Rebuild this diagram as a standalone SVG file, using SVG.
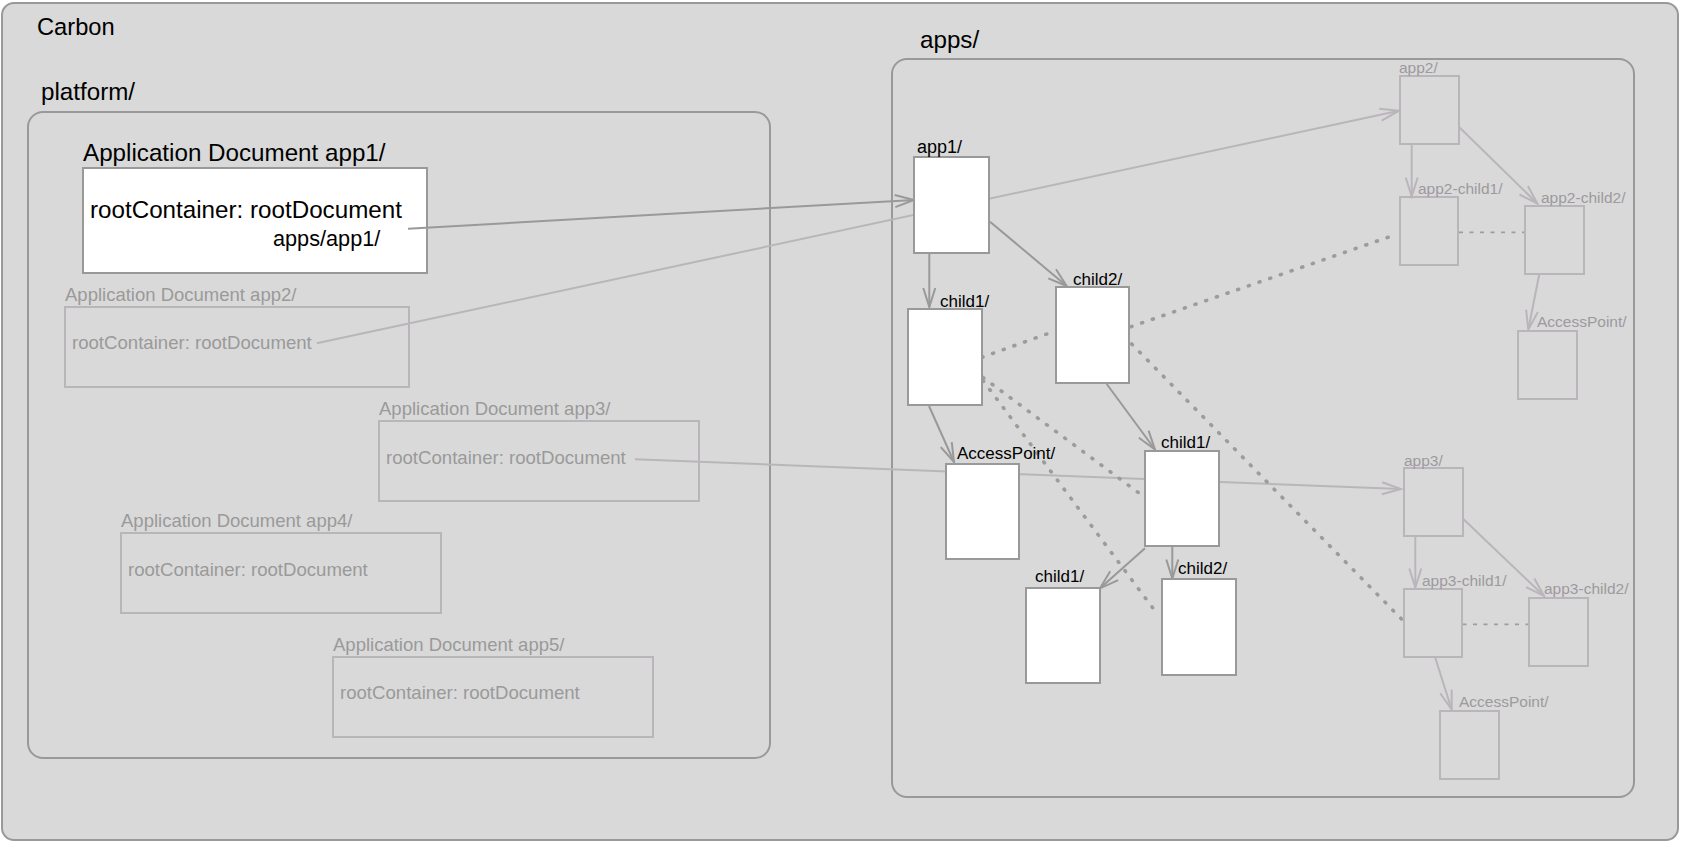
<svg xmlns="http://www.w3.org/2000/svg" width="1682" height="842" viewBox="0 0 1682 842">
<style>
text{font-family:"Liberation Sans",Arial,sans-serif;}
.big{font-size:24.2px;fill:#000;}
.lbl{font-size:17px;fill:#000;}
.flbl{font-size:15.5px;fill:#9d999e;}
.ftitle{font-size:18.5px;fill:#9a9a9a;}
.ftext{font-size:18.6px;fill:#9a9a9a;}
.cont{fill:#d9d9d9;stroke:#999;stroke-width:2;}
.node{fill:#fff;stroke:#999;stroke-width:2;}
.fnode{fill:none;stroke:#bab5bb;stroke-width:2;}
.fdoc{fill:none;stroke:#bab5bb;stroke-width:2;}
.edge{fill:none;stroke:#999;stroke-width:2;}
.fedge{fill:none;stroke:#bab5bb;stroke-width:2;}
.dot{fill:none;stroke:#9c9c9c;stroke-width:3.6;stroke-linecap:round;stroke-dasharray:1 10.3;}
.dash{fill:none;stroke:#a09ca2;stroke-width:1.8;stroke-dasharray:4 6.5;}
</style>
<defs>
<marker id="ah" markerUnits="userSpaceOnUse" viewBox="0 0 22 16" markerWidth="22" markerHeight="16" refX="20" refY="8" orient="auto"><path d="M1,2 L20,8 L1,14" fill="none" stroke="#999" stroke-width="2"/></marker>
<marker id="fah" markerUnits="userSpaceOnUse" viewBox="0 0 22 16" markerWidth="22" markerHeight="16" refX="20" refY="8" orient="auto"><path d="M1,2 L20,8 L1,14" fill="none" stroke="#bab5bb" stroke-width="2"/></marker>
</defs>

<g id="carbon">
<rect class="cont" x="2" y="3" width="1676" height="837" rx="12"/>
<text class="big" x="37" y="35" style="font-size:23.7px">Carbon</text>
</g>

<g id="platform">
<rect class="cont" x="28" y="112" width="742" height="646" rx="15"/>
<text class="big" x="41" y="100">platform/</text>
</g>

<g id="apps">
<rect class="cont" x="892" y="59" width="742" height="738" rx="15"/>
<text class="big" x="920" y="48">apps/</text>
</g>

<g id="doc-app1">
<text class="big" x="83" y="161">Application Document app1/</text>
<rect class="node" x="83" y="168" width="344" height="105"/>
<text class="big" x="90" y="218">rootContainer: rootDocument</text>
<text class="big" x="273" y="246" style="font-size:21.7px">apps/app1/</text>
</g>

<g id="doc-app2">
<text class="ftitle" x="65" y="300.5">Application Document app2/</text>
<rect class="fdoc" x="65" y="307" width="344" height="80"/>
<text class="ftext" x="72" y="349">rootContainer: rootDocument</text>
</g>

<g id="doc-app3">
<text class="ftitle" x="379" y="415">Application Document app3/</text>
<rect class="fdoc" x="379" y="421" width="320" height="80"/>
<text class="ftext" x="386" y="464">rootContainer: rootDocument</text>
</g>

<g id="doc-app4">
<text class="ftitle" x="121" y="526.5">Application Document app4/</text>
<rect class="fdoc" x="121" y="533" width="320" height="80"/>
<text class="ftext" x="128" y="576">rootContainer: rootDocument</text>
</g>

<g id="doc-app5">
<text class="ftitle" x="333" y="650.5">Application Document app5/</text>
<rect class="fdoc" x="333" y="657" width="320" height="80"/>
<text class="ftext" x="340" y="699">rootContainer: rootDocument</text>
</g>

<g id="connectors">
<line class="edge" x1="408" y1="228.7" x2="914" y2="200" marker-end="url(#ah)"/>
<line class="fedge" x1="316.7" y1="343.3" x2="1399" y2="110.7" marker-end="url(#fah)"/>
<line class="fedge" x1="635" y1="459.3" x2="1401" y2="489" marker-end="url(#fah)"/>
<line class="edge" x1="929.3" y1="253" x2="929.3" y2="307" marker-end="url(#ah)"/>
<line class="edge" x1="990" y1="221.7" x2="1066.7" y2="286" marker-end="url(#ah)"/>
<line class="edge" x1="929" y1="406" x2="954" y2="462" marker-end="url(#ah)"/>
<line class="edge" x1="1106.7" y1="384" x2="1155" y2="449.5" marker-end="url(#ah)"/>
<line class="edge" x1="1145" y1="548.3" x2="1100" y2="588.3" marker-end="url(#ah)"/>
<line class="edge" x1="1172.3" y1="546" x2="1172.3" y2="578.5" marker-end="url(#ah)"/>
<line class="dot" x1="982" y1="357.3" x2="1055" y2="331"/>
<line class="dot" x1="1131" y1="326.7" x2="1396" y2="234.5"/>
<line class="dot" x1="1131.7" y1="344" x2="1402" y2="619.5"/>
<line class="dot" x1="983" y1="377.5" x2="1143" y2="496"/>
<line class="dot" x1="983" y1="380.5" x2="1158" y2="615"/>
<line class="fedge" x1="1411.7" y1="144" x2="1411.7" y2="196.5" marker-end="url(#fah)"/>
<line class="fedge" x1="1459.3" y1="127.3" x2="1537.3" y2="203.5" marker-end="url(#fah)"/>
<line class="dash" x1="1459" y1="232.3" x2="1525" y2="232.3"/>
<line class="fedge" x1="1539.3" y1="274" x2="1528.3" y2="329.5" marker-end="url(#fah)"/>
<line class="fedge" x1="1415.3" y1="536" x2="1415.3" y2="587.5" marker-end="url(#fah)"/>
<line class="fedge" x1="1463.3" y1="519" x2="1544" y2="596" marker-end="url(#fah)"/>
<line class="dash" x1="1462.5" y1="624.3" x2="1529" y2="624.3"/>
<line class="fedge" x1="1435" y1="657" x2="1451.7" y2="709.5" marker-end="url(#fah)"/>
</g>

<g id="node-app1">
<rect class="node" x="914" y="157" width="75" height="96"/>
<text class="lbl" x="917" y="153" style="font-size:18px">app1/</text>
</g>
<g id="node-child1">
<rect class="node" x="908" y="309" width="74" height="96"/>
<text class="lbl" x="940" y="307">child1/</text>
</g>
<g id="node-child2">
<rect class="node" x="1056" y="287" width="73" height="96"/>
<text class="lbl" x="1073" y="285">child2/</text>
</g>
<g id="node-accesspoint">
<rect class="node" x="946" y="464" width="73" height="95"/>
<text class="lbl" x="957" y="459">AccessPoint/</text>
</g>
<g id="node-child2-child1">
<rect class="node" x="1145" y="451" width="74" height="95"/>
<text class="lbl" x="1161" y="448">child1/</text>
</g>
<g id="node-child2-child1-child1">
<rect class="node" x="1026" y="588" width="74" height="95"/>
<text class="lbl" x="1035" y="582">child1/</text>
</g>
<g id="node-child2-child1-child2">
<rect class="node" x="1162" y="579" width="74" height="96"/>
<text class="lbl" x="1178" y="574">child2/</text>
</g>

<g id="node-app2">
<rect class="fnode" x="1400" y="76" width="59" height="68"/>
<text class="flbl" x="1399" y="73">app2/</text>
</g>
<g id="node-app2-child1">
<rect class="fnode" x="1400" y="197" width="58" height="68"/>
<text class="flbl" x="1418" y="194">app2-child1/</text>
</g>
<g id="node-app2-child2">
<rect class="fnode" x="1525" y="206" width="59" height="68"/>
<text class="flbl" x="1541" y="203">app2-child2/</text>
</g>
<g id="node-app2-accesspoint">
<rect class="fnode" x="1518" y="331" width="59" height="68"/>
<text class="flbl" x="1537" y="327">AccessPoint/</text>
</g>

<g id="node-app3">
<rect class="fnode" x="1404" y="468" width="59" height="68"/>
<text class="flbl" x="1404" y="466">app3/</text>
</g>
<g id="node-app3-child1">
<rect class="fnode" x="1404" y="589" width="58" height="68"/>
<text class="flbl" x="1422" y="586">app3-child1/</text>
</g>
<g id="node-app3-child2">
<rect class="fnode" x="1529" y="598" width="59" height="68"/>
<text class="flbl" x="1544" y="594">app3-child2/</text>
</g>
<g id="node-app3-accesspoint">
<rect class="fnode" x="1440" y="711" width="59" height="68"/>
<text class="flbl" x="1459" y="707">AccessPoint/</text>
</g>
</svg>
